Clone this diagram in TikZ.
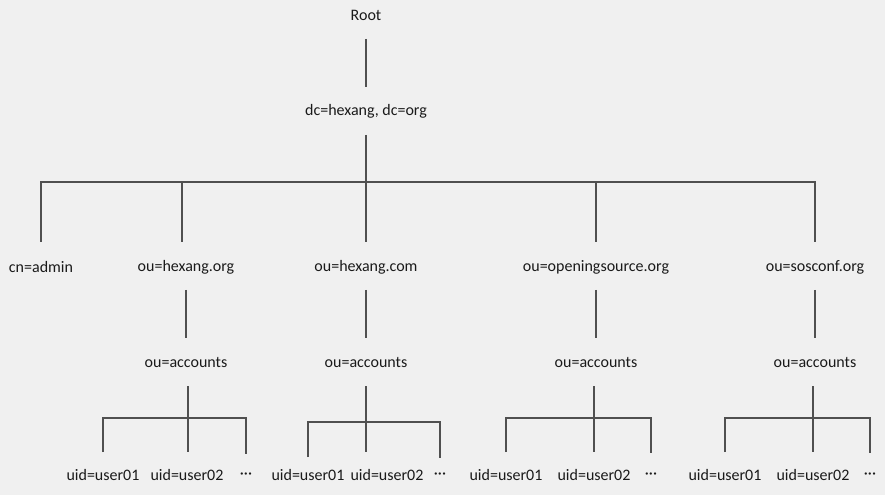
\documentclass[tikz,border=0pt]{standalone}
\usepackage{fontspec}
\setmainfont{Carlito}
\definecolor{bg}{HTML}{F0F0F0}
\definecolor{ln}{HTML}{505050}
\definecolor{tx}{HTML}{1A1A1A}
\begin{document}
\begin{tikzpicture}[x=0.75pt,y=-0.75pt,
  lbl/.style={inner sep=0pt,font=\fontsize{12pt}{14pt}\selectfont,text=tx},
  conn/.style={draw=ln,line width=0.9pt}]
\fill[bg] (0,0) rectangle (885,495);
\useasboundingbox (0,0) rectangle (885,495);
% texts
\node[lbl] (root) at (366,15) {Root};
\node[lbl] (dc) at (366,111) {dc=hexang, dc=org};
\node[lbl] (adm) at (41,267) {cn=admin};
\node[lbl] (hxo) at (186,267) {ou=hexang.org};
\node[lbl] (hxc) at (366,267) {ou=hexang.com};
\node[lbl] (oso) at (596,267) {ou=openingsource.org};
\node[lbl] (sos) at (815,267) {ou=sosconf.org};
\node[lbl] (acA) at (186,362) {ou=accounts};
\node[lbl] (acB) at (366,362) {ou=accounts};
\node[lbl] (acC) at (596,362) {ou=accounts};
\node[lbl] (acD) at (815,362) {ou=accounts};
% leaves
\node[lbl] (a1) at (103,475) {uid=user01};
\node[lbl] (a2) at (187,475) {uid=user02};
\node[lbl] (a3) at (246,476) {···};
\node[lbl] (b1) at (308,475) {uid=user01};
\node[lbl] (b2) at (387,475) {uid=user02};
\node[lbl] (b3) at (440,476) {···};
\node[lbl] (c1) at (506,475) {uid=user01};
\node[lbl] (c2) at (594,475) {uid=user02};
\node[lbl] (c3) at (651,476) {···};
\node[lbl] (d1) at (725,475) {uid=user01};
\node[lbl] (d2) at (813,475) {uid=user02};
\node[lbl] (d3) at (870,476) {···};
% junction coordinates
\coordinate (j0) at (366,182);
\coordinate (dHxo) at (182,182);
\coordinate (jA) at (188,418);
\coordinate (jB) at (366,422);
\coordinate (eB) at (366,452);
\coordinate (jC) at (594,418);
\coordinate (jD) at (813,418);
% root to dc
\draw[conn,shorten <=18pt,shorten >=18pt] (root.center) -- (dc.center);
% dc to bus and ou=hexang.com
\draw[conn,shorten <=18pt,shorten >=18.75pt] (dc.center) -- (hxc.center);
% bus
\draw[conn,shorten <=18.75pt,shorten >=18.75pt]
  (adm.center) -- (adm.center |- j0) -- (sos.center |- j0) -- (sos.center);
\draw[conn,shorten >=18.75pt] (dHxo) -- (dHxo |- hxo.center);
\draw[conn,shorten >=18.75pt] (oso.center |- j0) -- (oso.center);
% level 2 to accounts
\draw[conn,shorten <=17.25pt,shorten >=18pt] (hxo.center) -- (acA.center);
\draw[conn,shorten <=17.25pt,shorten >=18pt] (hxc.center) -- (acB.center);
\draw[conn,shorten <=17.25pt,shorten >=18pt] (oso.center) -- (acC.center);
\draw[conn,shorten <=17.25pt,shorten >=18pt] (sos.center) -- (acD.center);
% group A
\draw[conn,shorten <=18pt,shorten >=17.25pt] (acA.center -| jA) -- (a2.center -| jA);
\draw[conn,shorten <=17.25pt,shorten >=16.5pt]
  (a1.center) -- (a1.center |- jA) -- (a3.center |- jA) -- (a3.center);
% group B
\draw[conn,shorten <=18pt] (acB.center) -- (eB);
\draw[conn,shorten <=13.5pt,shorten >=13.5pt]
  (b1.center) -- (b1.center |- jB) -- (b3.center |- jB) -- (b3.center);
% group C
\draw[conn,shorten <=18pt,shorten >=17.25pt] (acC.center -| jC) -- (c2.center -| jC);
\draw[conn,shorten <=17.25pt,shorten >=17pt]
  (c1.center) -- (c1.center |- jC) -- (c3.center |- jC) -- (c3.center);
% group D
\draw[conn,shorten <=18pt,shorten >=17.25pt] (acD.center -| jD) -- (d2.center -| jD);
\draw[conn,shorten <=17.25pt,shorten >=17pt]
  (d1.center) -- (d1.center |- jD) -- (d3.center |- jD) -- (d3.center);
\end{tikzpicture}
\end{document}
